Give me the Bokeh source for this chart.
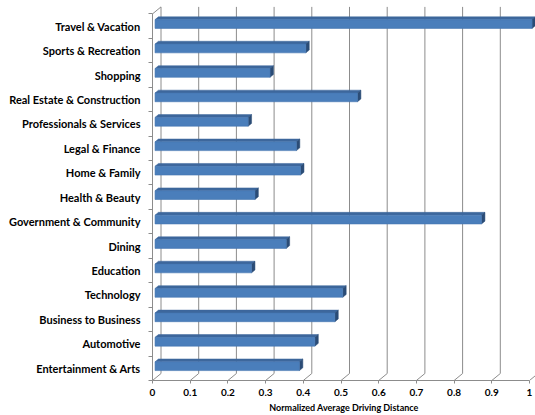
from bokeh.plotting import figure
from bokeh.models import Range1d, FixedTicker
from bokeh.embed import file_html
from bokeh.resources import INLINE

# ---- data (top to bottom as displayed) ----
categories = ["Travel & Vacation", "Sports & Recreation", "Shopping",
              "Real Estate & Construction", "Professionals & Services",
              "Legal & Finance", "Home & Family", "Health & Beauty",
              "Government & Community", "Dining", "Education", "Technology",
              "Business to Business", "Automotive", "Entertainment & Arts"]
values = [1.0, 0.40, 0.305, 0.537, 0.247, 0.375, 0.386, 0.265, 0.866,
          0.348, 0.256, 0.498, 0.477, 0.424, 0.383]
x_ticks = [0, 0.1, 0.2, 0.3, 0.4, 0.5, 0.6, 0.7, 0.8, 0.9, 1]
x_tick_labels = ["0", "0.1", "0.2", "0.3", "0.4", "0.5", "0.6", "0.7", "0.8", "0.9", "1"]

n = len(categories)
ys = [n - 1 - i for i in range(n)]

# ---- 3D geometry (in data units) ----
PX = 377.0   # px per x unit
PY = 24.44   # px per category
DX = 8.5 / PX
DY = 7.0 / PY
F0, F1 = 0.3, 0.7
H = 0.36

FONT = "Lato"
GRID = "#8c8c8c"

p = figure(width=535, height=415, output_backend="svg", toolbar_location=None,
           x_range=Range1d(0, 383.0 / PX), y_range=Range1d(-0.5, -0.5 + 380.0 / PY),
           min_border_left=152, min_border_right=0, min_border_top=0,
           min_border_bottom=35)
p.outline_line_color = None
p.xgrid.visible = False
p.ygrid.visible = False

# back wall gridlines + floor diagonals
gx0, gy0, gx1, gy1 = [], [], [], []
for t in x_ticks:
    gx0.append(t + DX); gy0.append(-0.5 + DY); gx1.append(t + DX); gy1.append(n - 0.5 + DY)
    gx0.append(t); gy0.append(-0.5); gx1.append(t + DX); gy1.append(-0.5 + DY)
# top slant of left wall
gx0.append(0); gy0.append(n - 0.5); gx1.append(DX); gy1.append(n - 0.5 + DY)
p.segment(x0=gx0, y0=gy0, x1=gx1, y1=gy1, line_color=GRID, line_width=1)

# bars
left = [F0 * DX] * n
right = [v + F0 * DX for v in values]
bottom = [y - H / 2 + F0 * DY for y in ys]
top = [y + H / 2 + F0 * DY for y in ys]
ddx = (F1 - F0) * DX
ddy = (F1 - F0) * DY

top_xs = [[l, r, r + ddx, l + ddx] for l, r in zip(left, right)]
top_ys = [[t, t, t + ddy, t + ddy] for t in top]
side_xs = [[r, r, r + ddx, r + ddx] for r in right]
side_ys = [[b, t, t + ddy, b + ddy] for b, t in zip(bottom, top)]

p.patches(xs=top_xs, ys=top_ys, fill_color="#3d679c", line_color="#3d679c", line_width=0.5)
p.patches(xs=side_xs, ys=side_ys, fill_color="#2b4c76", line_color="#2b4c76", line_width=0.5)
p.quad(left=left, right=right, bottom=bottom, top=top,
       fill_color="#4a7ebb", line_color="#4576b0", line_width=0.6)

# axes
xa = p.xaxis[0]
xa.ticker = FixedTicker(ticks=x_ticks)
xa.major_label_overrides = {t: s for t, s in zip(x_ticks, x_tick_labels)}
xa.bounds = (0, 1)
xa.axis_line_color = GRID
xa.major_tick_line_color = GRID
xa.major_tick_out = 3
xa.major_tick_in = 0
xa.minor_tick_line_color = None
xa.major_label_text_font = FONT
xa.major_label_text_font_style = "bold"
xa.major_label_text_font_size = "10px"
xa.major_label_text_color = "#000000"
xa.major_label_standoff = 5
xa.axis_label = "Normalized Average Driving Distance"
xa.axis_label_text_font = FONT
xa.axis_label_text_font_style = "bold"
xa.axis_label_text_font_size = "9px"
xa.axis_label_text_color = "#000000"
xa.axis_label_standoff = 3

ya = p.yaxis[0]
ya.ticker = FixedTicker(ticks=ys, minor_ticks=[k - 0.5 for k in range(n + 1)])
ya.major_label_overrides = {y: c for y, c in zip(ys, categories)}
ya.bounds = (-0.5, n - 0.5)
ya.axis_line_color = GRID
ya.major_tick_line_color = None
ya.major_tick_out = 0
ya.major_tick_in = 0
ya.minor_tick_line_color = GRID
ya.minor_tick_out = 4
ya.minor_tick_in = 0
ya.major_label_text_font = FONT
ya.major_label_text_font_style = "bold"
ya.major_label_text_font_size = "11px"
ya.major_label_text_color = "#000000"
ya.major_label_standoff = 8

open("out.html", "w").write(file_html(p, INLINE))
